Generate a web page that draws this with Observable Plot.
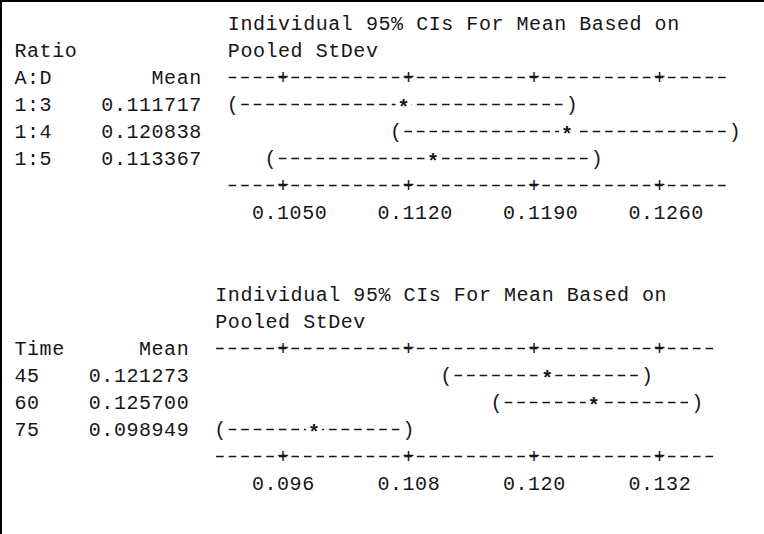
<!DOCTYPE html>
<html><head><meta charset="utf-8">
<script src="https://cdn.jsdelivr.net/npm/d3@7"></script>
<script src="https://cdn.jsdelivr.net/npm/@observablehq/plot@0.6"></script>
<style>
body{margin:0;background:#fff;}
#wrap{position:relative;width:764px;height:534px;overflow:hidden;background:#fff;}
#wrap svg{position:absolute;left:0;background:transparent;}
.bt{position:absolute;left:0;top:0;width:764px;height:2px;background:#000;z-index:5;}
.bl{position:absolute;left:0;top:0;width:2px;height:534px;background:#000;z-index:5;}
</style></head><body><div id="wrap"><div class="bt"></div><div class="bl"></div></div>
<script>
// ---- Data: Ratio A:D ----
const ratioName = ["Ratio", "A:D"];
const ratioLevels = ["1:3", "1:4", "1:5"];
const ratioMeans = [0.111717, 0.120838, 0.113367];
const ratioLower = [0.1022, 0.1113, 0.1043];
const ratioUpper = [0.1211, 0.1302, 0.1225];
const ratioTicks = [0.1050, 0.1120, 0.1190, 0.1260];
const ratioTickLabels = ["0.1050", "0.1120", "0.1190", "0.1260"];
const ratioAxisRange = [0.1022, 0.1295];

// ---- Data: Time ----
const timeName = ["Time"];
const timeLevels = ["45", "60", "75"];
const timeMeans = [0.121273, 0.125700, 0.098949];
const timeLower = [0.1116, 0.1164, 0.0900];
const timeUpper = [0.1308, 0.1356, 0.1080];
const timeTicks = [0.096, 0.108, 0.120, 0.132];
const timeTickLabels = ["0.096", "0.108", "0.120", "0.132"];
const timeAxisRange = [0.0900, 0.1368];

const headerLines = ["Individual 95% CIs For Mean Based on", "Pooled StDev"];

// ---- Layout (character grid) ----
const P = 12.55;      // character pitch
const L = 13;         // left edge of column 0
const ROW = 27;
const W = 764;
const INK = "#161616";
const DA = 2.3, DD = 7.6; // dash offset and length within a cell
const colCenter = c => L + (c + 0.5) * P;

function panel({name, levels, means, lower, upper, ticks, tickLabels, axisRange,
                firstCol, lastCol, meanEndCol, labelDx, top, height}) {
  const rows = levels.map((level, i) => ({level, mean: means[i], lo: lower[i], hi: upper[i]}));
  const keys = ["l0", "l1", "l2", ...levels, "axis", "ticks"];
  const marginLeft = colCenter(firstCol);
  const marginRight = W - colCenter(lastCol);
  const leftRows = [];
  if (name.length === 2) { leftRows.push({line: "l1", text: name[0]}, {line: "l2", text: name[1]}); }
  else { leftRows.push({line: "l2", text: name[0]}); }
  rows.forEach(r => leftRows.push({line: r.level, text: r.level}));
  const meanRows = [{line: "l2", text: "Mean"}, ...rows.map(r => ({line: r.level, text: d3.format(".6f")(r.mean)}))];
  const heads = headerLines.map((t, i) => ({line: "l" + i, text: t}));
  const tickData = ticks.map((t, i) => ({t, label: tickLabels[i]}));
  const dashStyle = {stroke: INK, strokeWidth: 1.5, strokeDasharray: `${DD} ${P - DD}`};

  const svg = Plot.plot({
    width: W, height,
    marginLeft, marginRight, marginTop: 0, marginBottom: 0,
    style: {fontFamily: "'Liberation Mono', 'DejaVu Sans Mono', monospace", fontSize: "20px", letterSpacing: "0.55px", color: INK, background: "transparent"},
    x: {domain: axisRange, axis: null},
    y: {type: "point", domain: keys, range: [23, 23 + 7 * ROW], padding: 0, axis: null},
    marks: [
      Plot.text(heads, {x: axisRange[0], y: "line", text: "text", textAnchor: "start", dx: -P / 2 + 1, fill: INK}),
      Plot.text(leftRows, {y: "line", text: "text", frameAnchor: "left", textAnchor: "start", dx: L + 1 - marginLeft, fill: INK}),
      Plot.text(meanRows, {y: "line", text: "text", frameAnchor: "left", textAnchor: "end", dx: L + (meanEndCol + 1) * P - marginLeft, fill: INK}),
      // axis lines  ----+---------+----
      Plot.ruleY(["l2", "axis"], {y: d => d, x1: axisRange[0], x2: axisRange[1],
        insetLeft: DA - P / 2, insetRight: P / 2 - DA - DD, ...dashStyle}),
      Plot.text(tickData, {x: "t", y: () => "l2", text: () => "+", fill: INK}),
      Plot.text(tickData, {x: "t", y: () => "axis", text: () => "+", fill: INK}),
      Plot.text(tickData, {x: "t", y: () => "ticks", text: "label", dx: labelDx, fill: INK}),
      // confidence intervals  (-----*-----)
      Plot.ruleY(rows, {y: "level", x1: "lo", x2: "hi", insetLeft: P / 2 + DA, insetRight: 1.5 * P - DA - DD, ...dashStyle}),
      Plot.text(rows, {x: "lo", y: "level", text: () => "(", fill: INK}),
      Plot.text(rows, {x: "hi", y: "level", text: () => ")", fill: INK}),
      Plot.text(rows, {x: "mean", y: "level", text: () => "*", fill: INK, dy: 3, fontWeight: "bold",
        stroke: "white", strokeWidth: 9, paintOrder: "stroke"})
    ]
  });
  svg.style.top = top + "px";
  document.getElementById("wrap").appendChild(svg);
}

panel({name: ratioName, levels: ratioLevels, means: ratioMeans, lower: ratioLower, upper: ratioUpper,
  ticks: ratioTicks, tickLabels: ratioTickLabels, axisRange: ratioAxisRange,
  firstCol: 17, lastCol: 56, meanEndCol: 14, labelDx: P / 2, top: 0, height: 271});
panel({name: timeName, levels: timeLevels, means: timeMeans, lower: timeLower, upper: timeUpper,
  ticks: timeTicks, tickLabels: timeTickLabels, axisRange: timeAxisRange,
  firstCol: 16, lastCol: 55, meanEndCol: 13, labelDx: 0, top: 271, height: 263});
</script></body></html>
